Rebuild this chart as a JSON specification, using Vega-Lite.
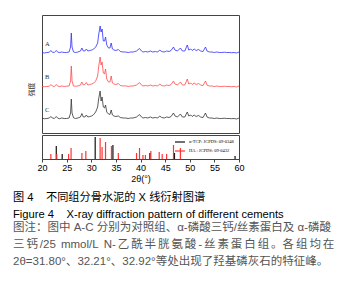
{
  "$schema": "https://vega.github.io/schema/vega-lite/v6.json",
  "background": "white",
  "padding": {"left": 13, "top": 14, "right": 0, "bottom": 0},
  "datasets": {
    "xrd": [
      {"t": 20.0, "A": 80.5, "B": 46.5, "C": 14.8},
      {"t": 20.5, "A": 80, "B": 46.3, "C": 14.3},
      {"t": 21.0, "A": 80.5, "B": 46.5, "C": 14.5},
      {"t": 21.5, "A": 80.8, "B": 46.8, "C": 15},
      {"t": 21.8, "A": 82.5, "B": 48.5, "C": 16.5},
      {"t": 22.1, "A": 80.8, "B": 47, "C": 15},
      {"t": 22.5, "A": 80.5, "B": 46.5, "C": 14.5},
      {"t": 22.9, "A": 82.5, "B": 48.5, "C": 16.5},
      {"t": 23.2, "A": 80.8, "B": 46.8, "C": 14.8},
      {"t": 23.6, "A": 80.5, "B": 46.5, "C": 14.3},
      {"t": 24.0, "A": 81, "B": 47, "C": 15},
      {"t": 24.5, "A": 80.5, "B": 46.5, "C": 14.5},
      {"t": 25.0, "A": 80.5, "B": 46.8, "C": 14.5},
      {"t": 25.5, "A": 81, "B": 47, "C": 15},
      {"t": 25.8, "A": 86, "B": 52, "C": 20},
      {"t": 25.95, "A": 100, "B": 67, "C": 34},
      {"t": 26.1, "A": 86, "B": 52, "C": 20},
      {"t": 26.4, "A": 81, "B": 47, "C": 15.2},
      {"t": 26.8, "A": 80.5, "B": 46.8, "C": 14.5},
      {"t": 27.3, "A": 81, "B": 47, "C": 15},
      {"t": 27.8, "A": 82, "B": 48, "C": 16},
      {"t": 28.1, "A": 85, "B": 51, "C": 19.5},
      {"t": 28.4, "A": 82, "B": 48, "C": 16},
      {"t": 28.7, "A": 82, "B": 48.5, "C": 16},
      {"t": 29.0, "A": 84, "B": 50.5, "C": 18},
      {"t": 29.3, "A": 82, "B": 48, "C": 16},
      {"t": 29.7, "A": 82.5, "B": 48.5, "C": 16.5},
      {"t": 30.1, "A": 83, "B": 49, "C": 17},
      {"t": 30.5, "A": 84, "B": 50, "C": 18.5},
      {"t": 30.9, "A": 86, "B": 52, "C": 21},
      {"t": 31.3, "A": 90, "B": 57, "C": 26},
      {"t": 31.5, "A": 98, "B": 66, "C": 34},
      {"t": 31.8, "A": 107, "B": 76, "C": 42},
      {"t": 32.0, "A": 101, "B": 68, "C": 32},
      {"t": 32.2, "A": 104, "B": 71, "C": 36},
      {"t": 32.45, "A": 92, "B": 60, "C": 26},
      {"t": 32.7, "A": 92, "B": 59, "C": 25},
      {"t": 32.9, "A": 96, "B": 64, "C": 28},
      {"t": 33.15, "A": 88, "B": 54, "C": 21},
      {"t": 33.5, "A": 85, "B": 51, "C": 19},
      {"t": 33.8, "A": 85, "B": 51, "C": 18.5},
      {"t": 34.05, "A": 90, "B": 57, "C": 23},
      {"t": 34.3, "A": 84, "B": 50, "C": 18},
      {"t": 34.6, "A": 83, "B": 49, "C": 17},
      {"t": 35.0, "A": 82.5, "B": 48.5, "C": 16.5},
      {"t": 35.5, "A": 83.5, "B": 49.5, "C": 17},
      {"t": 35.9, "A": 81.5, "B": 47.5, "C": 15.5},
      {"t": 36.5, "A": 81, "B": 47, "C": 15},
      {"t": 37.0, "A": 81, "B": 47.2, "C": 15},
      {"t": 37.5, "A": 80.5, "B": 46.5, "C": 14.5},
      {"t": 38.0, "A": 81, "B": 47, "C": 15},
      {"t": 38.5, "A": 81, "B": 47, "C": 15},
      {"t": 39.2, "A": 82, "B": 48, "C": 16},
      {"t": 39.8, "A": 84.5, "B": 50.5, "C": 18.5},
      {"t": 40.2, "A": 82, "B": 48, "C": 16},
      {"t": 40.5, "A": 81, "B": 47, "C": 15},
      {"t": 41.0, "A": 81.5, "B": 47.5, "C": 15.5},
      {"t": 41.5, "A": 81, "B": 47, "C": 15},
      {"t": 42.0, "A": 82, "B": 48, "C": 16},
      {"t": 42.5, "A": 81, "B": 47, "C": 15},
      {"t": 43.0, "A": 81.5, "B": 47.5, "C": 15.5},
      {"t": 43.5, "A": 81, "B": 47, "C": 15},
      {"t": 43.9, "A": 83, "B": 49, "C": 17},
      {"t": 44.3, "A": 81.5, "B": 47.5, "C": 15.5},
      {"t": 44.8, "A": 81, "B": 47, "C": 15},
      {"t": 45.3, "A": 82, "B": 48, "C": 16},
      {"t": 45.8, "A": 81.5, "B": 47.5, "C": 15.5},
      {"t": 46.2, "A": 82.5, "B": 48.5, "C": 16.5},
      {"t": 46.7, "A": 86, "B": 52, "C": 20},
      {"t": 47.0, "A": 83, "B": 49, "C": 17},
      {"t": 47.5, "A": 82, "B": 48, "C": 16},
      {"t": 48.1, "A": 85, "B": 51, "C": 19},
      {"t": 48.5, "A": 82, "B": 48, "C": 16},
      {"t": 49.0, "A": 82, "B": 48, "C": 16},
      {"t": 49.5, "A": 88, "B": 54, "C": 21},
      {"t": 49.8, "A": 83, "B": 49, "C": 17},
      {"t": 50.2, "A": 84, "B": 50, "C": 18},
      {"t": 50.5, "A": 82.5, "B": 48.5, "C": 16.5},
      {"t": 50.9, "A": 84, "B": 50, "C": 18},
      {"t": 51.3, "A": 82.5, "B": 48.5, "C": 16.5},
      {"t": 51.8, "A": 83.5, "B": 49.5, "C": 17.5},
      {"t": 52.2, "A": 82, "B": 48, "C": 16},
      {"t": 52.7, "A": 81.5, "B": 47.5, "C": 15.5},
      {"t": 53.2, "A": 86, "B": 52, "C": 20},
      {"t": 53.5, "A": 82, "B": 48, "C": 16},
      {"t": 54.0, "A": 81, "B": 47, "C": 15},
      {"t": 54.5, "A": 81, "B": 47, "C": 15},
      {"t": 55.0, "A": 80.5, "B": 46.5, "C": 14.5},
      {"t": 55.5, "A": 81, "B": 47, "C": 15},
      {"t": 56.0, "A": 80.5, "B": 46.5, "C": 14.5},
      {"t": 56.5, "A": 80.5, "B": 46.5, "C": 14.5},
      {"t": 57.0, "A": 80.8, "B": 46.8, "C": 14.8},
      {"t": 57.5, "A": 80.5, "B": 46.5, "C": 14.5},
      {"t": 58.0, "A": 80.5, "B": 46.5, "C": 14.5},
      {"t": 58.5, "A": 80.3, "B": 46.3, "C": 14.3},
      {"t": 59.0, "A": 80.5, "B": 46.5, "C": 14.5},
      {"t": 59.5, "A": 80, "B": 46, "C": 14},
      {"t": 60.0, "A": 81, "B": 47, "C": 15}
    ],
    "labels": [
      {"t": 20.6, "v": 87, "label": "A"},
      {"t": 20.6, "v": 54, "label": "B"},
      {"t": 20.6, "v": 21.5, "label": "C"}
    ],
    "sticks": [
      {"t": 22.9, "h": 13, "phase": "TCP"},
      {"t": 24.1, "h": 5, "phase": "TCP"},
      {"t": 30.8, "h": 22, "phase": "TCP"},
      {"t": 34.4, "h": 14, "phase": "TCP"},
      {"t": 41.9, "h": 6, "phase": "TCP"},
      {"t": 46.9, "h": 6, "phase": "TCP"},
      {"t": 59.2, "h": 3, "phase": "TCP"},
      {"t": 21.8, "h": 5, "phase": "HA"},
      {"t": 23.0, "h": 5, "phase": "HA"},
      {"t": 25.4, "h": 5, "phase": "HA"},
      {"t": 25.9, "h": 11, "phase": "HA"},
      {"t": 28.1, "h": 6, "phase": "HA"},
      {"t": 28.9, "h": 8, "phase": "HA"},
      {"t": 31.8, "h": 21, "phase": "HA"},
      {"t": 32.2, "h": 12, "phase": "HA"},
      {"t": 32.9, "h": 17, "phase": "HA"},
      {"t": 34.1, "h": 13, "phase": "HA"},
      {"t": 35.5, "h": 6, "phase": "HA"},
      {"t": 39.2, "h": 6, "phase": "HA"},
      {"t": 39.8, "h": 11, "phase": "HA"},
      {"t": 40.5, "h": 4, "phase": "HA"},
      {"t": 41.0, "h": 4, "phase": "HA"},
      {"t": 42.1, "h": 8, "phase": "HA"},
      {"t": 43.8, "h": 7, "phase": "HA"},
      {"t": 44.4, "h": 5, "phase": "HA"},
      {"t": 45.3, "h": 5, "phase": "HA"},
      {"t": 46.7, "h": 14, "phase": "HA"},
      {"t": 48.1, "h": 11, "phase": "HA"}
    ]
  },
  "title": {
    "text": ["图 4\u00a0\u00a0\u00a0\u00a0不同组分骨水泥的 X 线衍射图谱", "Figure 4\u00a0\u00a0\u00a0\u00a0X-ray diffraction pattern of different cements"],
    "subtitle": ["图注：图中 A-C 分别为对照组、α-磷酸三钙/丝素蛋白及 α-磷酸", "三\u2006钙\u2006/25\u00a0\u2006mmol/L\u00a0\u2006N-\u2006乙\u2006酰\u2006半\u2006胱\u2006氨\u2006酸\u2006-\u2006丝\u2006素\u2006蛋\u2006白\u2006组\u2006。各\u2006组\u2006均\u2006在", "2θ=31.80°、32.21°、32.92°等处出现了羟基磷灰石的特征峰。"],
    "orient": "bottom",
    "anchor": "start",
    "frame": "group",
    "dx": -29,
    "offset": 8,
    "font": "Liberation Sans, Noto Sans CJK SC",
    "fontSize": 11.2,
    "fontWeight": "normal",
    "color": "#000000",
    "lineHeight": 17,
    "subtitleFont": "Liberation Sans, Noto Sans CJK SC",
    "subtitleFontSize": 11.5,
    "subtitleColor": "#555555",
    "subtitleLineHeight": 17,
    "subtitlePadding": 2
  },
  "spacing": 0,
  "resolve": {"scale": {"color": "independent"}, "legend": {"color": "independent"}},
  "vconcat": [
    {
      "width": 197,
      "height": 118,
      "layer": [
        {
          "data": {"name": "xrd"},
          "transform": [{"fold": ["A", "B", "C"], "as": ["series", "v"]}],
          "mark": {"type": "line", "strokeWidth": 0.8},
          "encoding": {
            "x": {"field": "t", "type": "quantitative", "scale": {"domain": [20, 60], "nice": false, "zero": false}, "axis": null},
            "y": {"field": "v", "type": "quantitative", "scale": {"domain": [0, 118], "nice": false},
              "axis": {"title": "强度", "labels": false, "ticks": false, "domain": false, "grid": false,
                "titleFont": "Noto Sans CJK SC", "titleFontSize": 7, "titleFontWeight": "normal", "titleColor": "#333333",
                "titleX": -8, "titleY": 74}},
            "color": {"field": "series", "type": "nominal", "scale": {"domain": ["A", "B", "C"], "range": ["#2e2eff", "#ff4a4a", "#333333"]}, "legend": null}
          }
        },
        {
          "data": {"name": "labels"},
          "mark": {"type": "text", "font": "Liberation Serif", "fontSize": 6.5, "align": "left", "baseline": "alphabetic", "color": "#333333"},
          "encoding": {
            "x": {"field": "t", "type": "quantitative"},
            "y": {"field": "v", "type": "quantitative"},
            "text": {"field": "label"}
          }
        }
      ]
    },
    {
      "width": 197,
      "height": 24,
      "data": {"name": "sticks"},
      "mark": {"type": "rule", "strokeWidth": 1.2},
      "encoding": {
        "x": {"field": "t", "type": "quantitative", "scale": {"domain": [20, 60], "nice": false, "zero": false},
          "axis": {"title": "2θ(°)", "values": [20, 25, 30, 35, 40, 45, 50, 55, 60], "tickSize": 3, "grid": false,
            "labelFont": "Liberation Sans", "labelFontSize": 9, "labelColor": "#000000", "labelPadding": 1, "labelFlush": false,
            "titleFont": "Liberation Sans", "titleFontSize": 9, "titleFontWeight": "normal", "titleColor": "#000000", "titlePadding": 2,
            "domainColor": "#444444", "tickColor": "#444444"}},
        "y": {"field": "h", "type": "quantitative", "scale": {"domain": [0, 24], "nice": false}, "axis": null},
        "y2": {"datum": 0},
        "color": {"field": "phase", "type": "nominal", "scale": {"domain": ["TCP", "HA"], "range": ["#111111", "#ff3333"]},
          "legend": {"title": null, "orient": "none", "legendX": 132, "legendY": 1, "symbolType": "stroke", "symbolSize": 100,
            "symbolStrokeWidth": 1.2, "labelFontSize": 4.5, "labelFont": "Liberation Serif", "rowPadding": 0, "padding": 0,
            "labelOffset": 3, "labelExpr": "datum.label == 'HA' ? 'HA  :  JCPDS: 09-0432' : 'α-TCP: JCPDS: 09-0348'"}}
      }
    }
  ],
  "config": {
    "view": {"stroke": "#444444", "strokeWidth": 1}
  }
}
